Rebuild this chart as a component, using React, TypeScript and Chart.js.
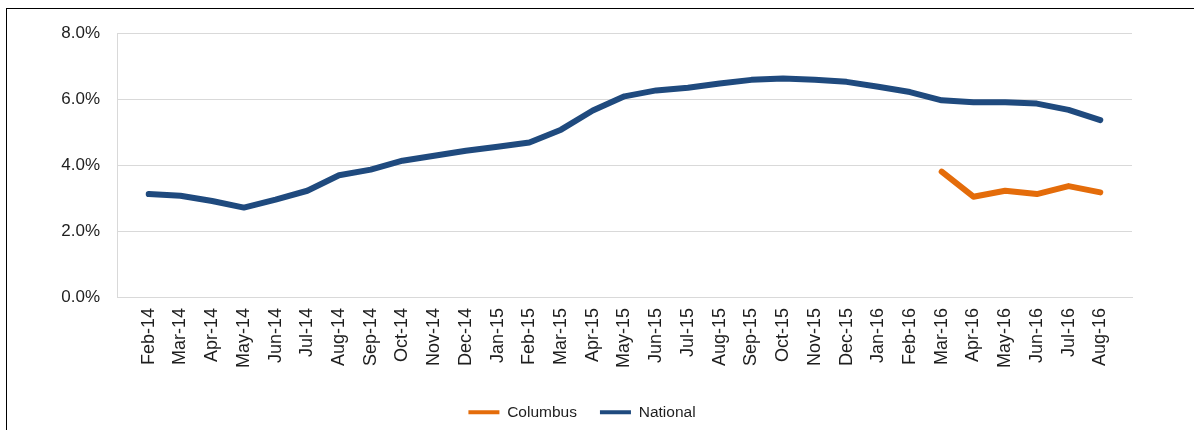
import React, { useEffect, useRef } from "react";
import { Chart, registerables } from "chart.js";

Chart.register(...registerables);

// Monthly categories, Feb-14 through Aug-16
const months = [
  "Feb-14", "Mar-14", "Apr-14", "May-14", "Jun-14", "Jul-14", "Aug-14", "Sep-14",
  "Oct-14", "Nov-14", "Dec-14", "Jan-15", "Feb-15", "Mar-15", "Apr-15", "May-15",
  "Jun-15", "Jul-15", "Aug-15", "Sep-15", "Oct-15", "Nov-15", "Dec-15", "Jan-16",
  "Feb-16", "Mar-16", "Apr-16", "May-16", "Jun-16", "Jul-16", "Aug-16",
];

// National rate, percent
const national = [
  3.12, 3.07, 2.91, 2.71, 2.95, 3.22, 3.69, 3.86,
  4.13, 4.28, 4.43, 4.55, 4.68, 5.07, 5.65, 6.08,
  6.26, 6.34, 6.47, 6.58, 6.62, 6.58, 6.52, 6.37,
  6.21, 5.96, 5.90, 5.90, 5.86, 5.67, 5.36,
];

// Columbus rate, percent (reported from Mar-16 onward)
const columbusStart = "Mar-16";
const columbus = [3.80, 3.04, 3.22, 3.12, 3.36, 3.17];

const yTicks = [0, 2, 4, 6, 8];

const FONT = "'Liberation Sans', Arial, sans-serif";
const TEXT = "#1e1e1e";
const GRID = "#d9d9d9";
const BLUE = "#1f4a7e";
const ORANGE = "#e46c0a";

export default function App() {
  const ref = useRef<HTMLCanvasElement | null>(null);

  useEffect(() => {
    if (!ref.current) return;
    // one empty slot on either side of the months
    const labels = ["", ...months, ""];
    const startIdx = months.indexOf(columbusStart);
    const columbusData = labels.map((_, i) => {
      const k = i - 1 - startIdx;
      return k >= 0 && k < columbus.length ? columbus[k] : null;
    });
    const nationalData = [null, ...national, null];

    const chart = new Chart(ref.current, {
      type: "line",
      data: {
        labels,
        datasets: [
          {
            label: "Columbus",
            data: columbusData,
            borderColor: ORANGE,
            backgroundColor: ORANGE,
            borderWidth: 6,
            pointRadius: 0,
            tension: 0,
            borderCapStyle: "round",
            borderJoinStyle: "round",
          },
          {
            label: "National",
            data: nationalData,
            borderColor: BLUE,
            backgroundColor: BLUE,
            borderWidth: 6,
            pointRadius: 0,
            tension: 0,
            borderCapStyle: "round",
            borderJoinStyle: "round",
          },
        ],
      },
      options: {
        responsive: false,
        animation: false,
        devicePixelRatio: 1,
        layout: { padding: { top: 24, left: 25, right: 62, bottom: 0 } },
        plugins: {
          tooltip: { enabled: false },
          legend: {
            position: "bottom",
            labels: {
              boxWidth: 31,
              boxHeight: 4,
              padding: 23,
              color: TEXT,
              font: { family: FONT, size: 15.5 },
              generateLabels: (c: any) =>
                c.data.datasets.map((ds: any, i: number) => ({
                  text: ds.label,
                  fillStyle: ds.borderColor,
                  strokeStyle: ds.borderColor,
                  lineWidth: 0,
                  hidden: false,
                  datasetIndex: i,
                  fontColor: TEXT,
                })),
            },
          },
        },
        scales: {
          x: {
            type: "category",
            offset: false,
            grid: { display: false, drawTicks: false },
            border: { display: true, color: GRID, width: 1 },
            ticks: {
              autoSkip: false,
              minRotation: 90,
              maxRotation: 90,
              padding: 11,
              color: TEXT,
              font: { family: FONT, size: 18 },
            },
            afterFit: (s: any) => {
              s.height = 84.5;
            },
          },
          y: {
            min: 0,
            max: 8,
            afterBuildTicks: (s: any) => {
              s.ticks = yTicks.map((v) => ({ value: v }));
            },
            grid: { color: GRID, lineWidth: 1, drawTicks: false },
            border: { display: true, color: GRID, width: 1 },
            ticks: {
              padding: 17,
              color: TEXT,
              font: { family: FONT, size: 17 },
              callback: (v: any) => Number(v).toFixed(1) + "%",
            },
            afterFit: (s: any) => {
              s.width = 85;
              s.paddingTop = 0;
              s.paddingBottom = 0;
            },
          },
        },
      },
    });
    return () => chart.destroy();
  }, []);

  return (
    <div
      style={{
        position: "absolute",
        left: 6,
        top: 8,
        width: 1188,
        height: 422,
        borderTop: "1px solid #000",
        borderLeft: "1px solid #000",
        background: "#fff",
        overflow: "hidden",
      }}
    >
      <canvas ref={ref} width={1187} height={421} style={{ display: "block" }} />
    </div>
  );
}
